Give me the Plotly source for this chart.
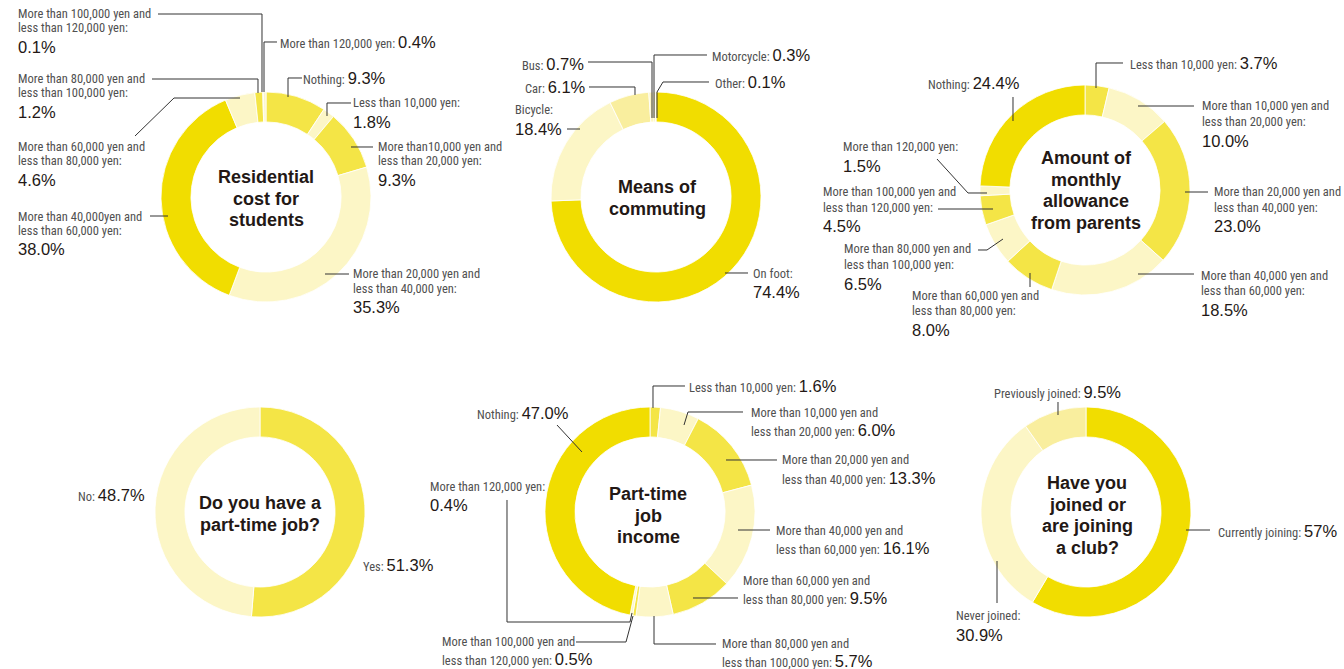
import plotly.graph_objects as go

W, H = 1344, 669

# ---------------- data ----------------
res_cats = ["Nothing", "Less than 10,000 yen",
            "More than10,000 yen and\nless than 20,000 yen",
            "More than 20,000 yen and\nless than 40,000 yen",
            "More than 40,000yen and\nless than 60,000 yen",
            "More than 60,000 yen and\nless than 80,000 yen",
            "More than 80,000 yen and\nless than 100,000 yen",
            "More than 100,000 yen and\nless than 120,000 yen",
            "More than 120,000 yen"]
res_vals = [9.3, 1.8, 9.3, 35.3, 38.0, 4.6, 1.2, 0.1, 0.4]

com_cats = ["On foot", "Bicycle", "Car", "Bus", "Motorcycle", "Other"]
com_vals = [74.4, 18.4, 6.1, 0.7, 0.3, 0.1]

alw_cats = ["Less than 10,000 yen",
            "More than 10,000 yen and\nless than 20,000 yen",
            "More than 20,000 yen and\nless than 40,000 yen",
            "More than 40,000 yen and\nless than 60,000 yen",
            "More than 60,000 yen and\nless than 80,000 yen",
            "More than 80,000 yen and\nless than 100,000 yen",
            "More than 100,000 yen and\nless than 120,000 yen",
            "More than 120,000 yen",
            "Nothing"]
alw_vals = [3.7, 10.0, 23.0, 18.5, 8.0, 6.5, 4.5, 1.5, 24.4]

job_cats = ["Yes", "No"]
job_vals = [51.3, 48.7]

inc_cats = ["Less than 10,000 yen",
            "More than 10,000 yen and\nless than 20,000 yen",
            "More than 20,000 yen and\nless than 40,000 yen",
            "More than 40,000 yen and\nless than 60,000 yen",
            "More than 60,000 yen and\nless than 80,000 yen",
            "More than 80,000 yen and\nless than 100,000 yen",
            "More than 100,000 yen and\nless than 120,000 yen",
            "More than 120,000 yen",
            "Nothing"]
inc_vals = [1.6, 6.0, 13.3, 16.1, 9.5, 5.7, 0.5, 0.4, 47.0]

club_cats = ["Currently joining", "Never joined", "Previously joined"]
club_vals = [57, 30.9, 9.5]

titles = [
    ["Residential", "cost for", "students"],
    ["Means of", "commuting"],
    ["Amount of", "monthly", "allowance", "from parents"],
    ["Do you have a", "part-time job?"],
    ["Part-time", "job", "income"],
    ["Have you", "joined or", "are joining", "a club?"],
]

# ---------------- style ----------------
D, M, L, ML = "#F1DD00", "#F4E546", "#FCF6C6", "#F9EE9E"
NARROW = "'Roboto Condensed',Roboto,sans-serif"
PCTF = "Liberation Sans, Arial, sans-serif"
LAB_COL = "#505050"
PCT_COL = "#231815"
LAB_SIZE = 12.5
PCT_SIZE = 16.5

charts = [
    dict(cats=res_cats, vals=res_vals, colors=[M, L, M, L, D, L, M, M, L],
         center=(266, 197), title_y=177, title_x=266, ls=14, gap=19,
         labels=[(302, 78, 'left', 'inline'), (352, 103, 'left', 'below'),
                 (377, 147, 'left', 'below'), (352, 274, 'left', 'below'),
                 (17, 216, 'left', 'below'), (17, 147, 'left', 'below'),
                 (17, 79, 'left', 'below'), (17, 14, 'left', 'below'),
                 (279, 42, 'left', 'inline')],
         leaders=[[(302, 78), (288, 78), (288, 97)],
                  [(351, 103), (327, 103), (327, 116)],
                  [(373, 147), (351, 147)],
                  [(349, 274), (325, 274)],
                  [(150, 216), (168, 216)],
                  [(135, 136), (174, 98), (240, 98)],
                  [(152, 79), (258, 79), (258, 93)],
                  [(158, 14), (262, 14), (262, 92)],
                  [(277, 42), (264, 42), (264, 92)]]),
    dict(cats=com_cats, vals=com_vals, colors=[D, L, ML, L, ML, L],
         center=(656, 197), title_y=187, title_x=657, ls=14, gap=19,
         labels=[(752, 273, 'left', 'below'), (514, 110, 'left', 'below'),
                 (587, 87, 'right', 'inline'), (585, 64, 'right', 'inline'),
                 (711, 55, 'left', 'inline'), (714, 82, 'left', 'inline')],
         leaders=[[(748, 273), (725, 273)],
                  [(567, 129), (580, 129)],
                  [(589, 87), (635, 87), (635, 95)],
                  [(588, 62), (652, 62), (652, 118)],
                  [(707, 55), (654, 55), (654, 118)],
                  [(709, 82), (663, 82), (657, 92), (657, 118)]]),
    dict(cats=alw_cats, vals=alw_vals, colors=[M, L, M, L, M, L, M, L, D],
         center=(1085, 190), title_y=158, title_x=1086, ls=15.5, gap=19,
         labels=[(1129, 63, 'left', 'inline'), (1201, 106, 'left', 'below'),
                 (1213, 192, 'left', 'below'), (1200, 275, 'left', 'below'),
                 (911, 295, 'left', 'below'), (843, 249, 'left', 'below'),
                 (822, 192, 'left', 'below'), (842, 147, 'left', 'below'),
                 (1021, 83, 'right', 'inline')],
         leaders=[[(1123, 63), (1096, 63), (1096, 88)],
                  [(1194, 106), (1138, 106)],
                  [(1208, 192), (1185, 192)],
                  [(1194, 274), (1138, 274)],
                  [(1030, 273), (1030, 287)],
                  [(978, 250), (987, 250), (1003, 239)],
                  [(938, 209), (993, 209)],
                  [(937, 159), (968, 193), (987, 193)],
                  [(1013, 97), (1013, 121)]]),
    dict(cats=job_cats, vals=job_vals, colors=[M, L],
         center=(260, 512), title_y=503, title_x=260, ls=14, gap=19,
         labels=[(362, 565, 'left', 'inline'), (77, 495, 'left', 'inline')],
         leaders=[[], []]),
    dict(cats=inc_cats, vals=inc_vals, colors=[M, L, M, L, M, L, M, L, D],
         center=(650, 512), title_y=494, title_x=648, ls=17.5, gap=19,
         labels=[(688, 386, 'left', 'inline'), (750, 412, 'left', 'inline'),
                 (781, 460, 'left', 'inline'), (775, 530, 'left', 'inline'),
                 (742, 580, 'left', 'inline'), (721, 643, 'left', 'inline'),
                 (441, 641, 'left', 'inline'), (429, 486, 'left', 'below'),
                 (570, 413, 'right', 'inline')],
         leaders=[[(685, 386), (653, 386), (653, 408)],
                  [(743, 412), (688, 412), (684, 425)],
                  [(777, 460), (726, 460)],
                  [(770, 530), (738, 530)],
                  [(738, 598), (693, 598)],
                  [(716, 644), (654, 644), (654, 616)],
                  [(576, 642), (626, 642), (633, 616)],
                  [(507, 500), (507, 622), (630, 622), (632, 613)],
                  [(557, 425), (582, 452)]]),
    dict(cats=club_cats, vals=club_vals, colors=[D, L, ML],
         center=(1086, 512), title_y=483, title_x=1087, ls=14, gap=20,
         labels=[(1217, 531, 'left', 'inline'), (955, 615, 'left', 'below'),
                 (993, 392, 'left', 'inline')],
         leaders=[[(1210, 530), (1186, 530)],
                  [(997, 603), (997, 561)],
                  [(1058, 402), (1058, 415)]]),
]

R = 105
HOLE = 0.715
TITLE_LS = 21.5


def px(x, y):
    return x / W, 1 - y / H


def fmt(v):
    return f"{v}%" if isinstance(v, int) else f"{v:.1f}%"


def lab_span(t):
    return (f"<span style=\"font-family:{NARROW};font-stretch:condensed;"
            f"font-size:{LAB_SIZE}px;color:{LAB_COL}\">{t}</span>")


def pct_span(t):
    return (f"<span style=\"font-family:{PCTF};font-size:{PCT_SIZE}px;"
            f"color:{PCT_COL}\">{t}</span>")


fig = go.Figure()
annotations = []
shapes = []

for ch, ttl in zip(charts, titles):
    cx, cy = ch["center"]
    x0, y1 = px(cx - R, cy - R)
    x1, y0 = px(cx + R, cy + R)
    fig.add_trace(go.Pie(
        values=ch["vals"],
        labels=[c.replace("\n", " ") for c in ch["cats"]],
        sort=False, direction="clockwise", rotation=0, hole=HOLE,
        textinfo="none", showlegend=False,
        marker=dict(colors=ch["colors"], line=dict(color="white", width=0.8)),
        domain=dict(x=[x0, x1], y=[y0, y1]),
        hoverinfo="label+value",
    ))
    # centre title
    for i, line in enumerate(ttl):
        ax, ay = px(ch["title_x"], ch["title_y"] + i * TITLE_LS)
        annotations.append(dict(
            x=ax, y=ay, xref="paper", yref="paper", text=f"<b>{line}</b>",
            showarrow=False, xanchor="center", yanchor="middle", borderpad=0,
            font=dict(family=PCTF, size=18, color=PCT_COL)))
    # labels
    for cat, val, (lx, ly, anc, mode) in zip(ch["cats"], ch["vals"], ch["labels"]):
        lines = cat.split("\n")
        for i, ln in enumerate(lines):
            yy = ly + i * ch["ls"]
            if i == len(lines) - 1:
                if mode == "inline":
                    txt = lab_span(ln + ": ") + pct_span(fmt(val))
                else:
                    txt = lab_span(ln + ":")
            else:
                txt = lab_span(ln)
            ax, ay = px(lx, yy)
            annotations.append(dict(
                x=ax, y=ay, xref="paper", yref="paper", text=txt,
                showarrow=False, xanchor=anc, yanchor="middle", borderpad=0))
        if mode == "below":
            yy = ly + (len(lines) - 1) * ch["ls"] + ch["gap"]
            ax, ay = px(lx, yy)
            annotations.append(dict(
                x=ax, y=ay, xref="paper", yref="paper", text=pct_span(fmt(val)),
                showarrow=False, xanchor=anc, yanchor="middle", borderpad=0))
    # leader lines
    for pts in ch["leaders"]:
        if not pts:
            continue
        path = ""
        for j, (a, b) in enumerate(pts):
            pxv, pyv = px(a, b)
            path += ("M" if j == 0 else " L") + f"{pxv:.5f},{pyv:.5f}"
        shapes.append(dict(type="path", path=path, xref="paper", yref="paper",
                           line=dict(color="#333333", width=1)))

fig.update_layout(
    width=W, height=H, autosize=False,
    margin=dict(l=0, r=0, t=0, b=0, pad=0),
    paper_bgcolor="white", plot_bgcolor="white",
    annotations=annotations, shapes=shapes,
)

fig.write_html("out.html")
